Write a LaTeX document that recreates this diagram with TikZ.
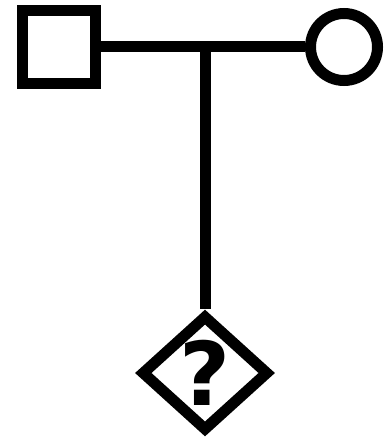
\documentclass[tikz,border=0pt]{standalone}
\usepackage{fontspec}
\usepackage{tikz}
\usetikzlibrary{positioning,shapes.geometric}
\newfontfamily\markfont{DejaVu Sans}

\begin{document}
\begin{tikzpicture}[
            x=1pt, y=-1pt,
            male/.style={rectangle, draw=black, line width=11pt, fill=white,
                         minimum size=73pt, inner sep=0pt},
            female/.style={circle, draw=black, line width=11pt, fill=white,
                         minimum size=67pt, inner sep=0pt},
            unknown/.style={diamond, draw=black, line width=11pt, fill=white,
                         minimum width=128pt, minimum height=116pt, inner sep=0pt,
                         font=\fontsize{88}{88}\selectfont\markfont\bfseries},
            link/.style={line width=11pt, black}
        ]
            \useasboundingbox (0,0) rectangle (391,444);
            
            % Eltern
            \node[male] (father) at (58.5,47) {};
            \node[female] (mother) at (344,47) {};
            \coordinate (mate) at (205,47);
            
            % Kind
            \node[unknown] (child) at (205,373) {?};
            
            \draw[link] (father) -- (mother);
            \draw[link] (mate) -- (child);
        \end{tikzpicture}
\end{document}
